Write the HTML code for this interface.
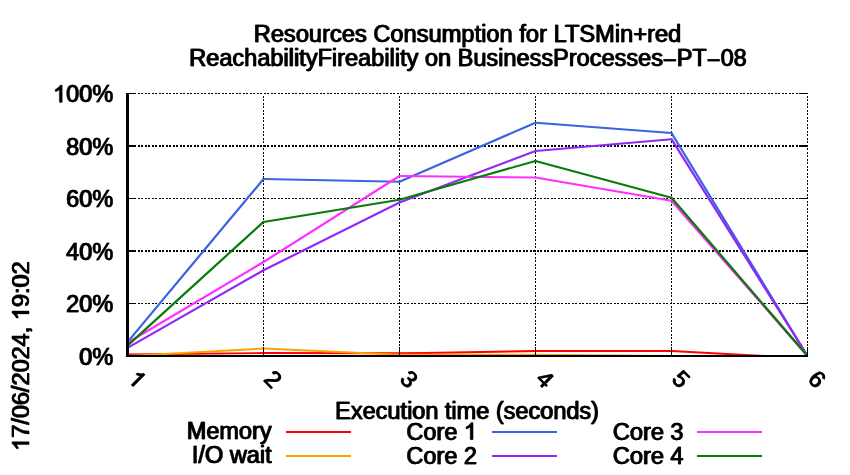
<!DOCTYPE html>
<html>
<head>
<meta charset="utf-8">
<title>Resources Consumption for LTSMin+red</title>
<style>
  html, body { margin: 0; padding: 0; background: #ffffff; }
  body { width: 850px; height: 475px; overflow: hidden; }
  svg { display: block; will-change: transform; }
  text { font-family: "Liberation Sans", sans-serif; font-size: 23.5px; fill: #000000; stroke: #000000; stroke-width: 0.4px; stroke-linejoin: round; }
  text .h { fill: none; stroke: none; }
  .one { fill: #000000; stroke: #000000; stroke-width: 34.9; stroke-linejoin: round; }
  .grid line { stroke: #000000; stroke-dasharray: 2 1 2 2; shape-rendering: crispEdges; }
  .solid line { stroke: #000000; shape-rendering: crispEdges; }
  .data line { fill: none; stroke-linecap: round; }
  .key line { stroke-width: 2; shape-rendering: crispEdges; }
</style>
</head>
<body>
<svg width="850" height="475" viewBox="0 0 850 475">
  <rect x="0" y="0" width="850" height="475" fill="#ffffff"/>

  <!-- title -->
  <g transform="translate(467.50,42.00)">
    <text x="-0.40" y="0.00" text-anchor="middle" textLength="427.5" lengthAdjust="spacing">Resources Consumption for LTSMin+red</text>
    <text x="0.40" y="0.00" text-anchor="middle" textLength="427.5" lengthAdjust="spacing">Resources Consumption for LTSMin+red</text>
  </g>
  <g transform="translate(468.00,66.00)">
    <text x="-0.40" y="0.00" text-anchor="middle" textLength="557.5" lengthAdjust="spacing">ReachabilityFireability on BusinessProcesses<tspan dy="2">−</tspan><tspan dy="-2">PT</tspan><tspan dy="2">−</tspan><tspan dy="-2">08</tspan></text>
    <text x="0.40" y="0.00" text-anchor="middle" textLength="557.5" lengthAdjust="spacing">ReachabilityFireability on BusinessProcesses<tspan dy="2">−</tspan><tspan dy="-2">PT</tspan><tspan dy="2">−</tspan><tspan dy="-2">08</tspan></text>
  </g>
  <!-- grid -->
  <g class="grid">
    <line x1="138" y1="303.5" x2="799" y2="303.5" stroke-width="1"/>
    <line x1="138" y1="251.0" x2="799" y2="251.0" stroke-width="2"/>
    <line x1="138" y1="198.5" x2="799" y2="198.5" stroke-width="1"/>
    <line x1="138" y1="146.0" x2="799" y2="146.0" stroke-width="2"/>
    <line x1="138" y1="93.5" x2="799" y2="93.5" stroke-width="1"/>
    <line x1="263.5" y1="96" x2="263.5" y2="347" stroke-width="1"/>
    <line x1="399.5" y1="96" x2="399.5" y2="347" stroke-width="1"/>
    <line x1="535.5" y1="96" x2="535.5" y2="347" stroke-width="1"/>
    <line x1="671.5" y1="96" x2="671.5" y2="347" stroke-width="1"/>
    <line x1="807.5" y1="96" x2="807.5" y2="347" stroke-width="1"/>
  </g>
  <!-- data -->
  <clipPath id="plotclip"><rect x="126" y="90" width="682" height="267"/></clipPath>
  <g class="data" clip-path="url(#plotclip)">
    <g stroke="#ff0000">
      <line x1="127.5" y1="354.5" x2="263.5" y2="353" stroke-width="1.91"/>
      <line x1="263.5" y1="353" x2="399.5" y2="353.3" stroke-width="1.90"/>
      <line x1="399.5" y1="353.3" x2="425" y2="353" stroke-width="1.91"/>
      <line x1="425" y1="353" x2="535.5" y2="351" stroke-width="1.91"/>
      <line x1="535.5" y1="351" x2="671.5" y2="351" stroke-width="1.90"/>
      <line x1="671.5" y1="351" x2="765" y2="356" stroke-width="1.94"/>
      <line x1="765" y1="356" x2="807.5" y2="356" stroke-width="1.90"/>
    </g>
    <g stroke="#ffa000">
      <line x1="127.5" y1="356" x2="263.5" y2="348.5" stroke-width="1.94"/>
      <line x1="263.5" y1="348.5" x2="399.5" y2="354.7" stroke-width="1.93"/>
      <line x1="399.5" y1="354.7" x2="535.5" y2="354.7" stroke-width="1.90"/>
      <line x1="535.5" y1="354.7" x2="671.5" y2="356" stroke-width="1.91"/>
      <line x1="671.5" y1="356" x2="807.5" y2="356" stroke-width="1.90"/>
    </g>
    <g stroke="#3a63e0">
      <line x1="127.5" y1="342.1" x2="263.5" y2="179" stroke-width="2.24"/>
      <line x1="263.5" y1="179" x2="399.5" y2="181.7" stroke-width="1.91"/>
      <line x1="399.5" y1="181.7" x2="535.5" y2="122.7" stroke-width="2.16"/>
      <line x1="535.5" y1="122.7" x2="671.5" y2="133" stroke-width="1.95"/>
      <line x1="671.5" y1="133" x2="807.5" y2="356" stroke-width="2.21"/>
    </g>
    <g stroke="#9028f8">
      <line x1="127.5" y1="347.9" x2="263.5" y2="270.3" stroke-width="2.20"/>
      <line x1="263.5" y1="270.3" x2="399.5" y2="202.4" stroke-width="2.18"/>
      <line x1="399.5" y1="202.4" x2="535.5" y2="150.9" stroke-width="2.13"/>
      <line x1="535.5" y1="150.9" x2="671.5" y2="139.2" stroke-width="1.96"/>
      <line x1="671.5" y1="139.2" x2="807.5" y2="356" stroke-width="2.22"/>
    </g>
    <g stroke="#ff30ff">
      <line x1="127.5" y1="342.7" x2="263.5" y2="262" stroke-width="2.21"/>
      <line x1="263.5" y1="262" x2="399.5" y2="176" stroke-width="2.22"/>
      <line x1="399.5" y1="176" x2="535.5" y2="177.5" stroke-width="1.91"/>
      <line x1="535.5" y1="177.5" x2="671.5" y2="200.7" stroke-width="2.02"/>
      <line x1="671.5" y1="200.7" x2="807.5" y2="356" stroke-width="2.25"/>
    </g>
    <g stroke="#087c08">
      <line x1="127.5" y1="345.6" x2="263.5" y2="221.9" stroke-width="2.25"/>
      <line x1="263.5" y1="221.9" x2="399.5" y2="199.8" stroke-width="2.01"/>
      <line x1="399.5" y1="199.8" x2="535.5" y2="160.9" stroke-width="2.09"/>
      <line x1="535.5" y1="160.9" x2="671.5" y2="197.7" stroke-width="2.08"/>
      <line x1="671.5" y1="197.7" x2="807.5" y2="356" stroke-width="2.25"/>
    </g>
  </g>
  <!-- border + tics -->
  <g class="solid">
    <line x1="129" y1="303.5" x2="136" y2="303.5" stroke-width="1"/>
    <line x1="799" y1="303.5" x2="808" y2="303.5" stroke-width="1"/>
    <line x1="129" y1="251.0" x2="136" y2="251.0" stroke-width="2"/>
    <line x1="799" y1="251.0" x2="808" y2="251.0" stroke-width="2"/>
    <line x1="129" y1="198.5" x2="136" y2="198.5" stroke-width="1"/>
    <line x1="799" y1="198.5" x2="808" y2="198.5" stroke-width="1"/>
    <line x1="129" y1="146.0" x2="136" y2="146.0" stroke-width="2"/>
    <line x1="799" y1="146.0" x2="808" y2="146.0" stroke-width="2"/>
    <line x1="129" y1="93.5" x2="136" y2="93.5" stroke-width="1"/>
    <line x1="799" y1="93.5" x2="808" y2="93.5" stroke-width="1"/>
    <line x1="263.5" y1="347" x2="263.5" y2="355" stroke-width="1"/>
    <line x1="399.5" y1="347" x2="399.5" y2="355" stroke-width="1"/>
    <line x1="535.5" y1="347" x2="535.5" y2="355" stroke-width="1"/>
    <line x1="671.5" y1="347" x2="671.5" y2="355" stroke-width="1"/>
    <line x1="807.5" y1="347" x2="807.5" y2="355" stroke-width="1"/>
    <line x1="127.5" y1="93" x2="127.5" y2="357" stroke-width="3"/>
    <line x1="126" y1="356" x2="808" y2="356" stroke-width="2"/>
  </g>
  <!-- y tick labels -->
  <g transform="translate(113.20,364.70)">
    <text x="-0.40" y="0.00" text-anchor="end">0%</text>
    <text x="0.40" y="0.00" text-anchor="end">0%</text>
  </g>
  <g transform="translate(113.20,312.20)">
    <text x="-0.40" y="0.00" text-anchor="end">20%</text>
    <text x="0.40" y="0.00" text-anchor="end">20%</text>
  </g>
  <g transform="translate(113.20,259.70)">
    <text x="-0.40" y="0.00" text-anchor="end">40%</text>
    <text x="0.40" y="0.00" text-anchor="end">40%</text>
  </g>
  <g transform="translate(113.20,207.20)">
    <text x="-0.40" y="0.00" text-anchor="end">60%</text>
    <text x="0.40" y="0.00" text-anchor="end">60%</text>
  </g>
  <g transform="translate(113.20,154.70)">
    <text x="-0.40" y="0.00" text-anchor="end">80%</text>
    <text x="0.40" y="0.00" text-anchor="end">80%</text>
  </g>
  <g transform="translate(113.20,102.20)">
    <text x="-0.40" y="0.00" text-anchor="end"><tspan class="h">1</tspan>00%</text>
    <text x="0.40" y="0.00" text-anchor="end"><tspan class="h">1</tspan>00%</text>
    <path class="one" transform="translate(-60.53,0.00) scale(0.011475)" d="M763 0H583V-1147Q518 -1085 412.5 -1023Q307 -961 223 -930V-1104Q374 -1175 487 -1276Q600 -1377 647 -1472H763Z"/>
    <path class="one" transform="translate(-59.73,0.00) scale(0.011475)" d="M763 0H583V-1147Q518 -1085 412.5 -1023Q307 -961 223 -930V-1104Q374 -1175 487 -1276Q600 -1377 647 -1472H763Z"/>
  </g>
  <!-- x tick labels (rotated 45deg clockwise) -->
  <g transform="translate(137.30,379.00) rotate(45)">
    <text x="-0.40" y="8.40" text-anchor="middle"><tspan class="h">1</tspan></text>
    <text x="0.40" y="8.40" text-anchor="middle"><tspan class="h">1</tspan></text>
    <path class="one" transform="translate(-6.94,8.40) scale(0.011475)" d="M763 0H583V-1147Q518 -1085 412.5 -1023Q307 -961 223 -930V-1104Q374 -1175 487 -1276Q600 -1377 647 -1472H763Z"/>
    <path class="one" transform="translate(-6.14,8.40) scale(0.011475)" d="M763 0H583V-1147Q518 -1085 412.5 -1023Q307 -961 223 -930V-1104Q374 -1175 487 -1276Q600 -1377 647 -1472H763Z"/>
  </g>
  <g transform="translate(273.30,379.00) rotate(45)">
    <text x="-0.40" y="8.40" text-anchor="middle">2</text>
    <text x="0.40" y="8.40" text-anchor="middle">2</text>
  </g>
  <g transform="translate(409.30,379.00) rotate(45)">
    <text x="-0.40" y="8.40" text-anchor="middle">3</text>
    <text x="0.40" y="8.40" text-anchor="middle">3</text>
  </g>
  <g transform="translate(545.30,379.00) rotate(45)">
    <text x="-0.40" y="8.40" text-anchor="middle">4</text>
    <text x="0.40" y="8.40" text-anchor="middle">4</text>
  </g>
  <g transform="translate(681.30,379.00) rotate(45)">
    <text x="-0.40" y="8.40" text-anchor="middle">5</text>
    <text x="0.40" y="8.40" text-anchor="middle">5</text>
  </g>
  <g transform="translate(817.30,379.00) rotate(45)">
    <text x="-0.40" y="8.40" text-anchor="middle">6</text>
    <text x="0.40" y="8.40" text-anchor="middle">6</text>
  </g>
  <!-- x label -->
  <g transform="translate(467.10,418.60)">
    <text x="-0.40" y="0.00" text-anchor="middle">Execution time (seconds)</text>
    <text x="0.40" y="0.00" text-anchor="middle">Execution time (seconds)</text>
  </g>
  <!-- time stamp -->
  <g transform="translate(29.00,356.10) rotate(-90)">
    <text x="-0.40" y="0.00" text-anchor="middle"><tspan class="h">1</tspan>7/06/2024, <tspan class="h">1</tspan>9:02</text>
    <text x="0.40" y="0.00" text-anchor="middle"><tspan class="h">1</tspan>7/06/2024, <tspan class="h">1</tspan>9:02</text>
    <path class="one" transform="translate(-95.16,0.00) scale(0.011475)" d="M763 0H583V-1147Q518 -1085 412.5 -1023Q307 -961 223 -930V-1104Q374 -1175 487 -1276Q600 -1377 647 -1472H763Z"/>
    <path class="one" transform="translate(-94.36,0.00) scale(0.011475)" d="M763 0H583V-1147Q518 -1085 412.5 -1023Q307 -961 223 -930V-1104Q374 -1175 487 -1276Q600 -1377 647 -1472H763Z"/>
    <path class="one" transform="translate(35.53,0.00) scale(0.011475)" d="M763 0H583V-1147Q518 -1085 412.5 -1023Q307 -961 223 -930V-1104Q374 -1175 487 -1276Q600 -1377 647 -1472H763Z"/>
    <path class="one" transform="translate(36.33,0.00) scale(0.011475)" d="M763 0H583V-1147Q518 -1085 412.5 -1023Q307 -961 223 -930V-1104Q374 -1175 487 -1276Q600 -1377 647 -1472H763Z"/>
  </g>
  <!-- key -->
  <g transform="translate(271.60,439.40)">
    <text x="-0.40" y="0.00" text-anchor="end">Memory</text>
    <text x="0.40" y="0.00" text-anchor="end">Memory</text>
  </g>
  <g transform="translate(271.60,463.40)">
    <text x="-0.40" y="0.00" text-anchor="end">I/O wait</text>
    <text x="0.40" y="0.00" text-anchor="end">I/O wait</text>
  </g>
  <g transform="translate(477.00,439.60)">
    <text x="-0.40" y="0.00" text-anchor="end">Core <tspan class="h">1</tspan></text>
    <text x="0.40" y="0.00" text-anchor="end">Core <tspan class="h">1</tspan></text>
    <path class="one" transform="translate(-13.48,0.00) scale(0.011475)" d="M763 0H583V-1147Q518 -1085 412.5 -1023Q307 -961 223 -930V-1104Q374 -1175 487 -1276Q600 -1377 647 -1472H763Z"/>
    <path class="one" transform="translate(-12.68,0.00) scale(0.011475)" d="M763 0H583V-1147Q518 -1085 412.5 -1023Q307 -961 223 -930V-1104Q374 -1175 487 -1276Q600 -1377 647 -1472H763Z"/>
  </g>
  <g transform="translate(477.00,463.50)">
    <text x="-0.40" y="0.00" text-anchor="end">Core 2</text>
    <text x="0.40" y="0.00" text-anchor="end">Core 2</text>
  </g>
  <g transform="translate(683.50,439.60)">
    <text x="-0.40" y="0.00" text-anchor="end">Core 3</text>
    <text x="0.40" y="0.00" text-anchor="end">Core 3</text>
  </g>
  <g transform="translate(683.50,463.50)">
    <text x="-0.40" y="0.00" text-anchor="end">Core 4</text>
    <text x="0.40" y="0.00" text-anchor="end">Core 4</text>
  </g>
  <g class="key">
    <line x1="286" y1="432" x2="351" y2="432" stroke="#ff0000"/>
    <line x1="286" y1="456" x2="351" y2="456" stroke="#ffa000"/>
    <line x1="492" y1="432" x2="557" y2="432" stroke="#3a63e0"/>
    <line x1="492" y1="456" x2="557" y2="456" stroke="#9028f8"/>
    <line x1="697" y1="432" x2="762" y2="432" stroke="#ff30ff"/>
    <line x1="697" y1="456" x2="762" y2="456" stroke="#087c08"/>
  </g>
</svg>
</body>
</html>
